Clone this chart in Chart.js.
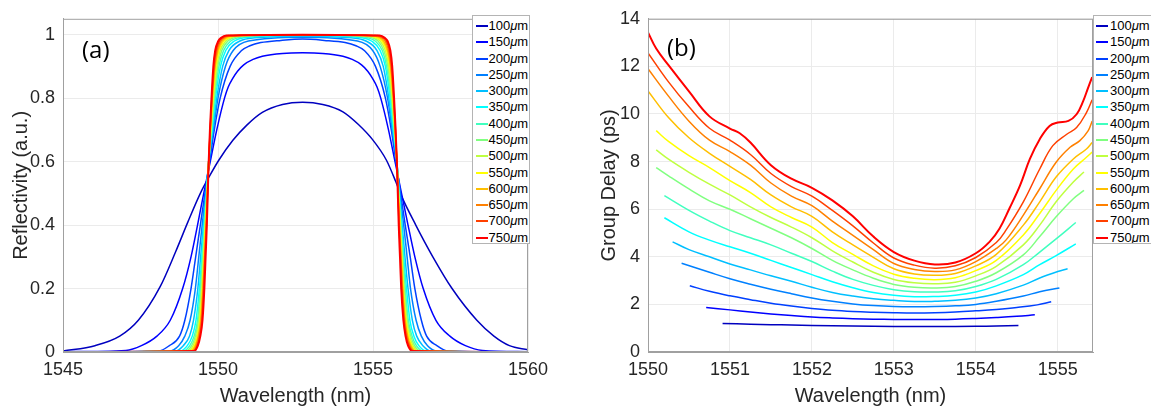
<!DOCTYPE html>
<html><head><meta charset="utf-8">
<script src="https://cdn.jsdelivr.net/npm/chart.js@4.4.1/dist/chart.umd.min.js"></script>
<style>
html,body{margin:0;padding:0;background:#fff;}
body{width:1151px;height:406px;overflow:hidden;position:relative;font-family:"Liberation Sans",Arial,sans-serif;}
canvas{position:absolute;top:0;}
#ca{left:0;width:560px;height:406px;}
#cb{left:560px;width:591px;height:406px;}
.lbl{position:absolute;font-family:"Open Sans",sans-serif;font-size:24px;line-height:24px;color:#000;white-space:nowrap;}
.leg{position:absolute;background:#fff;border:1px solid #b4b4b4;box-sizing:border-box;overflow:hidden;}
.row{position:absolute;height:16px;font-size:13px;line-height:16px;color:#000;white-space:nowrap;}
.ln{position:absolute;height:2px;}
</style></head><body>
<canvas id="ca" width="560" height="406"></canvas>
<canvas id="cb" width="591" height="406"></canvas>
<div class="lbl" style="left:82px;top:37px;">(a)</div>
<div class="lbl" style="left:667px;top:35px;">(b)</div>
<div id="legA" class="leg"></div>
<div id="legB" class="leg"></div>
<script>
// ---------- categories / labels ----------
const gratingLengths = ['100','150','200','250','300','350','400','450','500','550','600','650','700','750'];
const lineColors = ['rgb(0,0,191)','rgb(0,0,255)','rgb(0,64,255)','rgb(0,128,255)','rgb(0,191,255)','rgb(0,255,255)','rgb(64,255,191)','rgb(128,255,128)','rgb(191,255,64)','rgb(255,255,0)','rgb(255,191,0)','rgb(255,128,0)','rgb(255,64,0)','rgb(255,0,0)'];
const ticksAx = [1545,1550,1555,1560];
const ticksAy = [0,0.2,0.4,0.6,0.8,1];
const ticksBx = [1550,1551,1552,1553,1554,1555];
const ticksBy = [0,2,4,6,8,10,12,14];

// ---------- panel (a): reflectivity ----------
const reflX100 = [1545.00,1546.03,1546.83,1547.43,1548.13,1548.63,1549.03,1549.43,1549.73,1550.03,1550.48,1550.93,1551.43,1552.08,1552.73,1553.38,1554.03,1554.53,1554.98,1555.43,1555.73,1555.88,1556.38,1556.93,1557.55,1558.35,1558.90,1559.40,1560.00];
const reflY100 = [0.003,0.02,0.05,0.10,0.205,0.315,0.41,0.50,0.555,0.605,0.667,0.715,0.755,0.78,0.787,0.78,0.757,0.717,0.67,0.605,0.538,0.50,0.40,0.30,0.20,0.10,0.05,0.02,0.007];
const reflX150 = [1545.00,1547.03,1547.53,1548.03,1548.46,1548.86,1549.13,1549.34,1549.54,1549.75,1549.96,1550.21,1550.33,1550.48,1550.63,1550.83,1551.13,1551.43,1552.08,1552.73,1553.38,1554.03,1554.33,1554.63,1554.83,1554.98,1555.13,1555.25,1555.50,1555.71,1555.92,1556.13,1556.35,1556.62,1557.03,1557.48,1557.98,1558.53,1560.00];
const reflY150 = [0.001,0.005,0.02,0.05,0.10,0.20,0.30,0.40,0.50,0.60,0.70,0.80,0.835,0.863,0.885,0.905,0.922,0.932,0.941,0.943,0.941,0.932,0.922,0.905,0.885,0.863,0.835,0.80,0.70,0.60,0.50,0.40,0.30,0.20,0.10,0.05,0.02,0.005,0.001];
const reflX200 = [1545.00,1548.08,1548.43,1548.76,1548.93,1549.13,1549.28,1549.43,1549.58,1549.73,1549.88,1550.07,1550.39,1550.76,1551.03,1551.38,1552.03,1552.73,1553.43,1554.10,1554.45,1554.72,1555.08,1555.40,1555.59,1555.74,1555.89,1556.04,1556.20,1556.35,1556.56,1556.73,1557.06,1557.42,1560.00];
const reflY200 = [0,0.003,0.02,0.05,0.10,0.20,0.30,0.40,0.50,0.60,0.70,0.80,0.90,0.95,0.965,0.975,0.982,0.986,0.982,0.975,0.965,0.95,0.90,0.80,0.70,0.60,0.50,0.40,0.30,0.20,0.10,0.05,0.02,0.003,0];
const reflX250 = [1545.00,1548.43,1548.73,1548.93,1549.10,1549.27,1549.38,1549.49,1549.60,1549.71,1549.85,1550.00,1550.24,1550.49,1550.98,1552.73,1554.50,1554.99,1555.23,1555.47,1555.62,1555.76,1555.87,1555.99,1556.10,1556.21,1556.39,1556.56,1556.76,1557.07,1560.00];
const reflY250 = [0,0.003,0.02,0.05,0.10,0.20,0.30,0.40,0.50,0.60,0.70,0.80,0.90,0.95,0.98,0.992,0.98,0.95,0.90,0.80,0.70,0.60,0.50,0.40,0.30,0.20,0.10,0.05,0.02,0.003,0];
const reflX300 = [1545.00,1548.63,1548.88,1549.08,1549.21,1549.35,1549.44,1549.53,1549.62,1549.70,1549.83,1549.96,1550.15,1550.35,1550.71,1551.18,1552.73,1554.30,1554.77,1555.13,1555.33,1555.51,1555.64,1555.77,1555.85,1555.94,1556.03,1556.13,1556.27,1556.41,1556.61,1556.87,1560.00];
const reflY300 = [0,0.003,0.02,0.05,0.10,0.20,0.30,0.40,0.50,0.60,0.70,0.80,0.90,0.95,0.98,0.99,0.995,0.99,0.98,0.95,0.90,0.80,0.70,0.60,0.50,0.40,0.30,0.20,0.10,0.05,0.02,0.003,0];
const reflX350 = [1545.00,1548.78,1549.01,1549.17,1549.29,1549.40,1549.48,1549.55,1549.63,1549.70,1549.81,1549.92,1550.08,1550.25,1550.53,1550.83,1552.73,1554.65,1554.95,1555.23,1555.40,1555.55,1555.66,1555.77,1555.84,1555.92,1555.99,1556.08,1556.19,1556.32,1556.48,1556.72,1560.00];
const reflY350 = [0,0.003,0.02,0.05,0.10,0.20,0.30,0.40,0.50,0.60,0.70,0.80,0.90,0.95,0.98,0.99,0.998,0.99,0.98,0.95,0.90,0.80,0.70,0.60,0.50,0.40,0.30,0.20,0.10,0.05,0.02,0.003,0];
const reflX400 = [1545.00,1548.88,1549.09,1549.23,1549.34,1549.43,1549.50,1549.57,1549.64,1549.70,1549.79,1549.89,1550.03,1550.18,1550.41,1550.65,1551.33,1552.73,1554.15,1554.83,1555.07,1555.30,1555.44,1555.58,1555.68,1555.77,1555.83,1555.90,1555.97,1556.04,1556.14,1556.26,1556.40,1556.62,1560.00];
const reflY400 = [0,0.003,0.02,0.05,0.10,0.20,0.30,0.40,0.50,0.60,0.70,0.80,0.90,0.95,0.98,0.99,0.997,0.999,0.997,0.99,0.98,0.95,0.90,0.80,0.70,0.60,0.50,0.40,0.30,0.20,0.10,0.05,0.02,0.003,0];
const reflX450 = [1545.00,1548.96,1549.15,1549.27,1549.37,1549.46,1549.52,1549.58,1549.64,1549.70,1549.78,1549.87,1549.99,1550.12,1550.32,1550.51,1551.08,1552.73,1554.40,1554.97,1555.16,1555.35,1555.48,1555.60,1555.69,1555.77,1555.83,1555.89,1555.95,1556.01,1556.11,1556.22,1556.34,1556.54,1560.00];
const reflY450 = [0,0.003,0.02,0.05,0.10,0.20,0.30,0.40,0.50,0.60,0.70,0.80,0.90,0.95,0.98,0.99,0.997,1.0,0.997,0.99,0.98,0.95,0.90,0.80,0.70,0.60,0.50,0.40,0.30,0.20,0.10,0.05,0.02,0.003,0];
const reflX500 = [1545.00,1549.03,1549.20,1549.31,1549.40,1549.48,1549.54,1549.59,1549.65,1549.70,1549.77,1549.85,1549.96,1550.07,1550.25,1550.41,1550.83,1552.73,1554.65,1555.07,1555.23,1555.40,1555.51,1555.62,1555.70,1555.77,1555.82,1555.88,1555.93,1555.99,1556.08,1556.18,1556.29,1556.47,1560.00];
const reflY500 = [0,0.003,0.02,0.05,0.10,0.20,0.30,0.40,0.50,0.60,0.70,0.80,0.90,0.95,0.98,0.99,0.997,1.0,0.997,0.99,0.98,0.95,0.90,0.80,0.70,0.60,0.50,0.40,0.30,0.20,0.10,0.05,0.02,0.003,0];
const reflX550 = [1545.00,1549.09,1549.24,1549.34,1549.42,1549.50,1549.55,1549.60,1549.65,1549.70,1549.76,1549.83,1549.93,1550.03,1550.19,1550.33,1550.68,1552.73,1554.80,1555.15,1555.29,1555.44,1555.54,1555.64,1555.71,1555.77,1555.82,1555.87,1555.92,1555.97,1556.06,1556.15,1556.25,1556.41,1560.00];
const reflY550 = [0,0.003,0.02,0.05,0.10,0.20,0.30,0.40,0.50,0.60,0.70,0.80,0.90,0.95,0.98,0.99,0.997,1.0,0.997,0.99,0.98,0.95,0.90,0.80,0.70,0.60,0.50,0.40,0.30,0.20,0.10,0.05,0.02,0.003,0];
const reflX600 = [1545.00,1549.13,1549.27,1549.36,1549.44,1549.51,1549.56,1549.61,1549.66,1549.70,1549.755,1549.82,1549.91,1550.00,1550.14,1550.26,1550.53,1552.73,1554.95,1555.22,1555.34,1555.47,1555.56,1555.65,1555.715,1555.77,1555.81,1555.86,1555.91,1555.96,1556.04,1556.12,1556.22,1556.37,1560.00];
const reflY600 = [0,0.003,0.02,0.05,0.10,0.20,0.30,0.40,0.50,0.60,0.70,0.80,0.90,0.95,0.98,0.99,0.997,1.0,0.997,0.99,0.98,0.95,0.90,0.80,0.70,0.60,0.50,0.40,0.30,0.20,0.10,0.05,0.02,0.003,0];
const reflX650 = [1545.00,1549.17,1549.30,1549.38,1549.46,1549.52,1549.57,1549.62,1549.66,1549.70,1549.75,1549.81,1549.89,1549.97,1550.09,1550.20,1550.41,1552.73,1555.07,1555.28,1555.39,1555.50,1555.58,1555.66,1555.72,1555.77,1555.81,1555.85,1555.90,1555.95,1556.02,1556.10,1556.19,1556.33,1560.00];
const reflY650 = [0,0.003,0.02,0.05,0.10,0.20,0.30,0.40,0.50,0.60,0.70,0.80,0.90,0.95,0.98,0.99,0.997,1.0,0.997,0.99,0.98,0.95,0.90,0.80,0.70,0.60,0.50,0.40,0.30,0.20,0.10,0.05,0.02,0.003,0];
const reflX700 = [1545.00,1549.20,1549.33,1549.41,1549.48,1549.54,1549.58,1549.63,1549.665,1549.70,1549.745,1549.80,1549.87,1549.94,1550.05,1550.15,1550.33,1552.73,1555.15,1555.33,1555.43,1555.53,1555.60,1555.67,1555.725,1555.77,1555.805,1555.84,1555.89,1555.93,1556.00,1556.07,1556.16,1556.30,1560.00];
const reflY700 = [0,0.003,0.02,0.05,0.10,0.20,0.30,0.40,0.50,0.60,0.70,0.80,0.90,0.95,0.98,0.99,0.997,1.0,0.997,0.99,0.98,0.95,0.90,0.80,0.70,0.60,0.50,0.40,0.30,0.20,0.10,0.05,0.02,0.003,0];
const reflX750 = [1545.00,1549.23,1549.35,1549.43,1549.50,1549.56,1549.60,1549.64,1549.67,1549.70,1549.74,1549.79,1549.85,1549.91,1550.01,1550.10,1550.27,1552.73,1555.21,1555.38,1555.47,1555.56,1555.62,1555.68,1555.73,1555.77,1555.80,1555.83,1555.87,1555.91,1555.98,1556.05,1556.13,1556.27,1560.00];
const reflY750 = [0,0.003,0.02,0.05,0.10,0.20,0.30,0.40,0.50,0.60,0.70,0.80,0.90,0.95,0.98,0.99,0.997,1.0,0.997,0.99,0.98,0.95,0.90,0.80,0.70,0.60,0.50,0.40,0.30,0.20,0.10,0.05,0.02,0.003,0];

// ---------- panel (b): group delay ----------
const gdX100 = [1550.91,1551.25,1551.50,1551.75,1552.00,1552.50,1553.00,1553.50,1554.00,1554.25,1554.52];
const gdY100 = [1.2,1.17,1.15,1.13,1.11,1.09,1.07,1.07,1.08,1.09,1.11];
const gdX150 = [1550.71,1551.00,1551.25,1551.50,1551.75,1552.00,1552.25,1552.50,1552.75,1553.00,1553.25,1553.50,1553.75,1554.00,1554.25,1554.50,1554.72];
const gdY150 = [1.87,1.77,1.68,1.6,1.53,1.47,1.43,1.4,1.38,1.37,1.37,1.37,1.38,1.41,1.45,1.5,1.56];
const gdX200 = [1550.51,1550.75,1551.00,1551.25,1551.50,1551.75,1552.00,1552.25,1552.50,1552.75,1553.00,1553.25,1553.50,1553.75,1554.00,1554.25,1554.50,1554.75,1554.92];
const gdY200 = [2.78,2.55,2.36,2.2,2.05,1.93,1.83,1.75,1.7,1.67,1.65,1.64,1.65,1.68,1.73,1.79,1.87,1.98,2.11];
const gdX250 = [1550.41,1550.75,1551.00,1551.25,1551.50,1551.75,1552.00,1552.25,1552.50,1552.75,1553.00,1553.25,1553.50,1553.75,1554.00,1554.25,1554.58,1554.78,1555.02];
const gdY250 = [3.73,3.35,3.08,2.85,2.64,2.45,2.27,2.13,2.02,1.95,1.91,1.9,1.91,1.94,2.0,2.13,2.35,2.53,2.69];
const gdX300 = [1550.30,1550.50,1550.75,1551.00,1551.25,1551.50,1551.75,1552.00,1552.25,1552.50,1552.75,1553.00,1553.25,1553.50,1553.75,1554.00,1554.25,1554.58,1554.78,1555.00,1555.12];
const gdY300 = [4.63,4.3,4.0,3.7,3.45,3.2,2.97,2.72,2.5,2.35,2.24,2.17,2.12,2.13,2.17,2.27,2.45,2.81,3.11,3.38,3.5];
const gdX350 = [1550.20,1550.50,1550.75,1551.00,1551.25,1551.50,1551.75,1552.00,1552.25,1552.50,1552.75,1553.00,1553.25,1553.50,1553.75,1554.00,1554.25,1554.58,1554.78,1554.98,1555.22];
const gdY350 = [5.64,5.05,4.7,4.42,4.15,3.85,3.55,3.25,2.95,2.7,2.5,2.38,2.32,2.33,2.38,2.52,2.78,3.25,3.67,4.05,4.54];
const gdX400 = [1550.20,1550.50,1550.75,1551.00,1551.25,1551.50,1551.75,1552.00,1552.25,1552.50,1552.75,1553.00,1553.25,1553.50,1553.75,1554.00,1554.25,1554.58,1554.78,1554.98,1555.22];
const gdY400 = [6.57,5.95,5.5,5.1,4.8,4.5,4.15,3.8,3.4,3.05,2.8,2.62,2.53,2.52,2.57,2.75,3.05,3.67,4.2,4.75,5.44];
const gdX450 = [1550.10,1550.25,1550.50,1550.75,1551.00,1551.25,1551.50,1551.75,1552.00,1552.25,1552.50,1552.75,1553.00,1553.25,1553.50,1553.75,1554.00,1554.25,1554.58,1554.78,1554.98,1555.19,1555.32];
const gdY450 = [7.75,7.4,6.85,6.35,6.0,5.6,5.2,4.8,4.35,3.85,3.45,3.1,2.84,2.72,2.69,2.75,2.97,3.33,4.08,4.85,5.68,6.44,6.79];
const gdX500 = [1550.10,1550.25,1550.50,1550.75,1551.00,1551.25,1551.50,1551.75,1552.00,1552.25,1552.50,1552.75,1553.00,1553.25,1553.50,1553.75,1554.00,1554.25,1554.58,1554.78,1554.98,1555.19,1555.32];
const gdY500 = [8.49,8.1,7.55,7.05,6.6,6.1,5.65,5.25,4.8,4.25,3.78,3.35,3.05,2.91,2.87,2.93,3.2,3.6,4.5,5.33,6.31,7.14,7.56];
const gdX550 = [1550.10,1550.25,1550.50,1550.75,1551.00,1551.25,1551.50,1551.75,1552.00,1552.25,1552.50,1552.75,1553.00,1553.25,1553.50,1553.75,1554.00,1554.25,1554.58,1554.78,1554.98,1555.19,1555.35,1555.42];
const gdY550 = [9.3,8.85,8.25,7.75,7.2,6.7,6.1,5.65,5.25,4.6,4.1,3.62,3.27,3.1,3.04,3.12,3.42,3.85,4.92,5.82,6.79,7.69,8.18,8.4];
const gdX600 = [1550.00,1550.25,1550.50,1550.75,1551.00,1551.25,1551.50,1551.75,1552.00,1552.25,1552.50,1552.75,1553.00,1553.25,1553.50,1553.75,1554.00,1554.25,1554.58,1554.78,1554.98,1555.19,1555.35,1555.42];
const gdY600 = [10.97,9.85,9.0,8.35,7.8,7.25,6.6,6.1,5.7,5.05,4.5,3.98,3.5,3.28,3.22,3.3,3.62,4.1,5.33,6.31,7.35,8.11,8.53,8.8];
const gdX650 = [1550.00,1550.25,1550.50,1550.75,1551.00,1551.25,1551.50,1551.75,1552.00,1552.25,1552.50,1552.75,1553.00,1553.25,1553.50,1553.75,1554.00,1554.25,1554.37,1554.58,1554.78,1554.98,1555.15,1555.27,1555.37,1555.42];
const gdY650 = [11.9,10.75,9.7,8.9,8.42,7.85,7.1,6.55,6.15,5.5,4.9,4.3,3.72,3.47,3.38,3.45,3.8,4.35,4.71,5.75,6.86,7.97,8.6,8.88,9.29,9.7];
const gdX700 = [1550.00,1550.25,1550.50,1550.75,1551.00,1551.25,1551.50,1551.75,1552.00,1552.25,1552.50,1552.75,1553.00,1553.25,1553.50,1553.75,1554.00,1554.25,1554.37,1554.58,1554.78,1554.94,1555.11,1555.23,1555.35,1555.42];
const gdY700 = [12.57,11.35,10.3,9.4,8.9,8.3,7.5,6.95,6.55,5.95,5.3,4.58,3.95,3.65,3.52,3.62,3.97,4.6,5.13,6.31,7.69,8.67,9.15,9.43,10.06,10.6];
const gdX750 = [1550.00,1550.10,1550.25,1550.50,1550.75,1551.00,1551.12,1551.25,1551.50,1551.75,1552.00,1552.25,1552.50,1552.75,1553.00,1553.25,1553.50,1553.75,1554.00,1554.17,1554.29,1554.41,1554.54,1554.66,1554.78,1554.90,1555.00,1555.13,1555.23,1555.31,1555.37,1555.42];
const gdY750 = [13.43,12.75,12.05,10.95,9.9,9.39,9.19,8.8,7.85,7.28,6.9,6.37,5.7,4.85,4.2,3.84,3.68,3.76,4.15,4.64,5.19,6.03,7.0,8.11,8.94,9.5,9.64,9.71,9.99,10.54,11.1,11.55];

const reflXs = [reflX100,reflX150,reflX200,reflX250,reflX300,reflX350,reflX400,reflX450,reflX500,reflX550,reflX600,reflX650,reflX700,reflX750];
const reflYs = [reflY100,reflY150,reflY200,reflY250,reflY300,reflY350,reflY400,reflY450,reflY500,reflY550,reflY600,reflY650,reflY700,reflY750];
const gdXs = [gdX100,gdX150,gdX200,gdX250,gdX300,gdX350,gdX400,gdX450,gdX500,gdX550,gdX600,gdX650,gdX700,gdX750];
const gdYs = [gdY100,gdY150,gdY200,gdY250,gdY300,gdY350,gdY400,gdY450,gdY500,gdY550,gdY600,gdY650,gdY700,gdY750];

const FONT = '"Liberation Sans", Arial, sans-serif';
const TXT = '#262626';
const AXC = '#a0a0a0';

function makeSets(xs, ys, smooth){
  return gratingLengths.map((L,i)=>{
    const ds = {
      label: L+'μm',
      data: xs[i].map((x,j)=>({x:x, y:ys[i][j]})),
      borderColor: lineColors[i],
      backgroundColor: lineColors[i],
      borderWidth: i===13 ? 2 : 1.5,
      pointRadius: 0,
      fill: false,
      order: 14 - i
    };
    if (smooth === 'monotone') ds.cubicInterpolationMode = 'monotone';
    else ds.tension = 0.4;
    return ds;
  });
}

const boxPlugin = {
  id: 'boxFrame',
  afterDatasetsDraw(chart){
    const a = chart.chartArea, ctx = chart.ctx;
    ctx.save();
    ctx.strokeStyle = AXC; ctx.lineWidth = 1;
    ctx.strokeRect(a.left+0.5, a.top+0.5, a.right-a.left-1, a.bottom-a.top-1);
    ctx.restore();
  }
};

function axisX(min, max, tickVals){
  return {
    type:'linear', min:min, max:max,
    afterBuildTicks: s => { s.ticks = tickVals.map(v=>({value:v})); },
    afterFit: s => { s.height = 54; },
    grid:{color:'#ebebeb', drawTicks:false, lineWidth:1},
    border:{display:true, color:AXC},
    ticks:{font:{size:18, family:FONT}, color:TXT, padding:7, maxRotation:0, autoSkip:false, callback: v => String(v)},
    title:{display:true, text:'Wavelength (nm)', color:TXT, font:{size:20, family:FONT, lineHeight:1}, padding:{top:0,bottom:0}}
  };
}
function axisY(min, max, tickVals, width, text, tpad){
  return {
    type:'linear', min:min, max:max,
    afterBuildTicks: s => { s.ticks = tickVals.map(v=>({value:v})); },
    afterFit: s => { s.width = width; },
    grid:{color:'#ebebeb', drawTicks:false, lineWidth:1},
    border:{display:true, color:AXC},
    ticks:{font:{size:18, family:FONT}, color:TXT, padding:8, autoSkip:false, callback: v => String(v)},
    title:{display:true, text:text, color:TXT, font:{size:20, family:FONT, lineHeight:1}, padding:{top:tpad,bottom:0}}
  };
}

const common = {
  responsive:false, animation:false, devicePixelRatio:1,
  plugins:{legend:{display:false}, tooltip:{enabled:false}},
  events:[]
};

new Chart(document.getElementById('ca'), {
  type:'line',
  data:{datasets: makeSets(reflXs, reflYs, 'monotone')},
  options: Object.assign({}, common, {
    layout:{padding:{left:0, right:32, top:16, bottom:0}},
    scales:{
      x: axisX(1545, 1560, ticksAx),
      y: axisY(0, 1.05, ticksAy, 63, 'Reflectivity (a.u.)', 11)
    }
  }),
  plugins:[boxPlugin]
});

new Chart(document.getElementById('cb'), {
  type:'line',
  data:{datasets: makeSets(gdXs, gdYs, 'bezier')},
  options: Object.assign({}, common, {
    layout:{padding:{left:0, right:58, top:16, bottom:0}},
    scales:{
      x: axisX(1550, 1555.43, ticksBx),
      y: axisY(0, 14, ticksBy, 88, 'Group Delay (ps)', 39)
    }
  }),
  plugins:[boxPlugin]
});

// ---------- legends (HTML) ----------
function buildLegend(id, left, width, lineLeft, textLeft){
  const el = document.getElementById(id);
  el.style.left = left+'px'; el.style.top = '15px';
  el.style.width = width+'px'; el.style.height = '229px';
  gratingLengths.forEach((L,i)=>{
    const cy = 10 + i*16.28;
    const ln = document.createElement('div');
    ln.className = 'ln';
    ln.style.left = lineLeft+'px'; ln.style.width = '12px';
    ln.style.top = (cy-1)+'px'; ln.style.background = lineColors[i];
    el.appendChild(ln);
    const r = document.createElement('div');
    r.className = 'row';
    r.style.left = textLeft+'px'; r.style.top = (cy-8)+'px';
    r.innerHTML = L + '<span style="font-style:italic">μ</span>m';
    el.appendChild(r);
  });
}
buildLegend('legA', 472, 58, 3, 15.5);
buildLegend('legB', 1093, 70, 2, 16);
</script>
</body></html>
